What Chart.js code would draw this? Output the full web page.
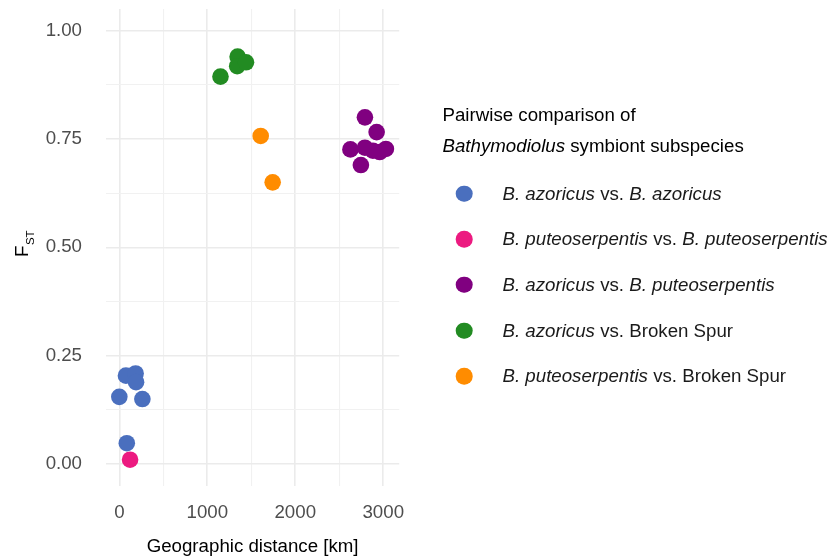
<!DOCTYPE html>
<html>
<head>
<meta charset="utf-8">
<script src="https://cdn.jsdelivr.net/npm/chart.js@4.4.1/dist/chart.umd.min.js"></script>
<style>
  html, body { margin: 0; padding: 0; background: #ffffff; }
  #wrap { position: relative; width: 832px; height: 556px; overflow: hidden; }
  #c { position: absolute; left: 0; top: 0; }
  #legend { position: absolute; left: 0; top: 0; width: 832px; height: 556px; pointer-events: none;
            font-family: "Liberation Sans", Arial, sans-serif; font-size: 18.7px; color: #1a1a1a; }
  .row { position: absolute; white-space: nowrap; line-height: 1; transform: translateY(-50%); }
  .dot { position: absolute; width: 16.6px; height: 16.6px; border-radius: 50%; transform: translate(-50%, -50%); }
</style>
</head>
<body>
<div id="wrap">
  <canvas id="c" width="832" height="556"></canvas>
  <div id="legend"></div>
</div>
<script>
// Geographic distance (km) and pairwise F_ST per comparison group
const azAzDist = [75, 185, 190, 0, 262, 85];
const azAzFst  = [0.204, 0.209, 0.189, 0.155, 0.150, 0.048];

const puPuDist = [122];
const puPuFst  = [0.010];

const azPuDist = [2792, 2925, 2627, 2792, 2883, 2960, 3030, 2746];
const azPuFst  = [0.800, 0.766, 0.726, 0.730, 0.723, 0.720, 0.727, 0.690];

const azBsDist = [1150, 1345, 1340, 1440];
const azBsFst  = [0.894, 0.940, 0.918, 0.927];

const puBsDist = [1607, 1743];
const puBsFst  = [0.757, 0.650];

// Axis breaks
const xTickLabels = [0, 1000, 2000, 3000];
const xGridBreaks = [0, 500, 1000, 1500, 2000, 2500, 3000];
const yTickLabels = [0, 0.25, 0.5, 0.75, 1];
const yGridBreaks = [0, 0.125, 0.25, 0.375, 0.5, 0.625, 0.75, 0.875, 1];

// Legend entries: [text, italic]
const groupLabels = [
  [['B. azoricus', true], [' vs. ', false], ['B. azoricus', true]],
  [['B. puteoserpentis', true], [' vs. ', false], ['B. puteoserpentis', true]],
  [['B. azoricus', true], [' vs. ', false], ['B. puteoserpentis', true]],
  [['B. azoricus', true], [' vs. Broken Spur', false]],
  [['B. puteoserpentis', true], [' vs. Broken Spur', false]]
];
const groupColors = ['#4a6fbe', '#ec1a80', '#800080', '#228b22', '#ff8c00'];
const groupDist = [azAzDist, puPuDist, azPuDist, azBsDist, puBsDist];
const groupFst  = [azAzFst, puPuFst, azPuFst, azBsFst, puBsFst];

const FONT = '"Liberation Sans", Arial, sans-serif';
const tickFont = { family: FONT, size: 18.7 };

const datasets = groupLabels.map((parts, i) => ({
  label: parts.map(p => p[0]).join(''),
  data: groupDist[i].map((d, k) => ({ x: d, y: groupFst[i][k] })),
  backgroundColor: groupColors[i],
  borderWidth: 0,
  pointRadius: 8.3,
  pointHoverRadius: 8.3
}));

// Rotated y-axis title: F with subscript ST
const yTitle = {
  id: 'yTitle',
  afterDraw(chart) {
    const c = chart.ctx;
    c.save();
    c.fillStyle = '#000000';
    c.textBaseline = 'alphabetic';
    c.translate(27.5, 257);
    c.rotate(-Math.PI / 2);
    c.font = '18.7px ' + FONT;
    c.fillText('F', 0, 0);
    const w = c.measureText('F').width;
    c.font = '11.5px ' + FONT;
    c.fillText('ST', w + 0.5, 6.5);
    c.restore();
  }
};

const isMajor = (majors, v) => majors.some(m => Math.abs(m - v) < 1e-9);
const gridWidth = majors => ctx => (ctx.tick && isMajor(majors, ctx.tick.value)) ? 1.6 : 1.1;
const gridColor = majors => ctx => (ctx.tick && isMajor(majors, ctx.tick.value)) ? '#ebebeb' : '#f1f1f1';

const chart = new Chart(document.getElementById('c'), {
  type: 'scatter',
  data: { datasets },
  options: {
    responsive: false,
    animation: false,
    events: [],
    layout: { padding: { top: 9, right: 432.8, left: 0, bottom: 0 } },
    plugins: { legend: { display: false }, tooltip: { enabled: false } },
    scales: {
      x: {
        type: 'linear',
        min: -151.5,
        max: 3181.5,
        afterBuildTicks: s => { s.ticks = xGridBreaks.map(v => ({ value: v })); },
        afterFit: s => { s.height = 70.3; s.paddingLeft = 0; s.paddingRight = 0; },
        ticks: {
          autoSkip: false, maxRotation: 0, padding: 15.5,
          font: tickFont, color: '#4d4d4d',
          callback: v => xTickLabels.includes(v) ? String(v) : ''
        },
        grid: { drawTicks: false, lineWidth: gridWidth(xTickLabels), color: gridColor(xTickLabels) },
        border: { display: false },
        title: {
          display: true, text: 'Geographic distance [km]', color: '#000000',
          font: { family: FONT, size: 18.7, lineHeight: 1 }, padding: { top: 0, bottom: 0 }
        }
      },
      y: {
        type: 'linear',
        min: -0.05,
        max: 1.05,
        afterBuildTicks: s => { s.ticks = yGridBreaks.map(v => ({ value: v })); },
        afterFit: s => { s.width = 106; s.paddingTop = 0; s.paddingBottom = 0; },
        ticks: {
          autoSkip: false, padding: 24,
          font: tickFont, color: '#4d4d4d',
          callback: v => isMajor(yTickLabels, v) ? v.toFixed(2) : ''
        },
        grid: { drawTicks: false, lineWidth: gridWidth(yTickLabels), color: gridColor(yTickLabels) },
        border: { display: false }
      }
    }
  },
  plugins: [yTitle]
});

// HTML legend built from the chart's datasets
(function buildLegend() {
  const box = document.getElementById('legend');
  const t1 = document.createElement('div');
  t1.className = 'row'; t1.style.left = '442.5px'; t1.style.top = '114.5px'; t1.style.color = '#000';
  t1.textContent = 'Pairwise comparison of';
  box.appendChild(t1);
  const t2 = document.createElement('div');
  t2.className = 'row'; t2.style.left = '442.5px'; t2.style.top = '145.5px'; t2.style.color = '#000';
  const it = document.createElement('i'); it.textContent = 'Bathymodiolus';
  t2.appendChild(it);
  t2.appendChild(document.createTextNode(' symbiont subspecies'));
  box.appendChild(t2);

  chart.data.datasets.forEach((ds, i) => {
    const y = 193.5 + i * 45.7;
    const dot = document.createElement('div');
    dot.className = 'dot';
    dot.style.left = '464.3px'; dot.style.top = y + 'px';
    dot.style.background = ds.backgroundColor;
    box.appendChild(dot);
    const row = document.createElement('div');
    row.className = 'row'; row.style.left = '502.5px'; row.style.top = y + 'px';
    groupLabels[i].forEach(([txt, italic]) => {
      const el = document.createElement(italic ? 'i' : 'span');
      el.textContent = txt;
      el.style.whiteSpace = 'pre';
      row.appendChild(el);
    });
    box.appendChild(row);
  });
})();
</script>
</body>
</html>
